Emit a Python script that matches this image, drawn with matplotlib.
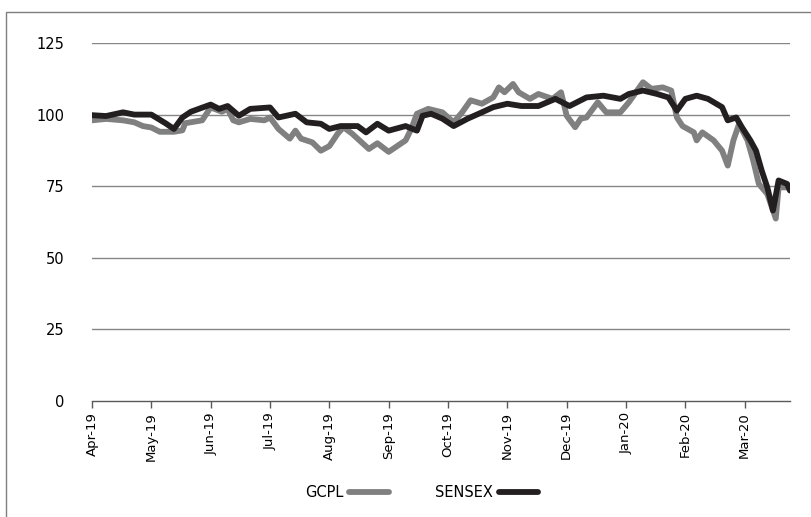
import matplotlib
matplotlib.use("Agg")
import matplotlib.pyplot as plt
from matplotlib.patches import Rectangle

# trading-day index (0 = 1 Apr 2019) and rebased value (1 Apr 2019 = 100)
gcpl_day = [0, 5, 11, 15, 18, 21, 24, 27, 29, 32, 33, 39, 42, 46, 48, 50, 52, 56,
            61, 63, 66, 70, 72, 74, 78, 81, 84, 87, 89, 92, 96, 98, 101, 105, 108,
            111, 113, 115, 119, 124, 128, 131, 134, 138, 142, 144, 146, 149, 151,
            155, 158, 163, 166, 168, 171, 173, 175, 179, 182, 187, 190, 195, 198,
            202, 205, 207, 209, 213, 214, 216, 220, 223, 225, 227, 229, 232, 234,
            236, 239, 242, 243, 247]
gcpl_val = [98, 98.5, 98, 97.3, 96, 95.5, 94, 94, 94, 94.5, 97, 98, 102.5, 101,
            102, 98, 97.3, 98.5, 98, 99, 95, 91.6, 94.4, 91.6, 90.3, 87.4, 89,
            93.4, 95.6, 93.4, 89.8, 88, 90, 87, 89, 91, 95, 100.3, 102, 100.8,
            97.3, 100.8, 105, 103.8, 106, 109.5, 107.8, 110.7, 107.8, 105.5, 107.2,
            105.5, 107.8, 99.6, 95.6, 98.6, 99, 104.3, 100.8, 100.8, 104.3, 111.3,
            109, 109.5, 108.4, 99, 96, 93.8, 91, 93.8, 91, 87.4, 82.2, 91, 96.7,
            91, 84, 75.8, 72.3, 63.7, 74.6, 74.6]

sensex_day = [0, 5, 11, 15, 21, 26, 29, 32, 35, 42, 45, 48, 52, 56, 63, 66, 72,
              76, 81, 84, 88, 94, 97, 101, 105, 111, 115, 117, 120, 124, 128, 133,
              138, 142, 147, 152, 158, 164, 169, 175, 181, 187, 190, 195, 200, 204,
              207, 210, 214, 218, 223, 225, 228, 230, 233, 235, 237, 239, 241, 243,
              246, 247]
sensex_val = [99.8, 99.5, 100.8, 100, 100, 97, 95, 99, 101, 103.5, 102, 103, 99.6,
              102, 102.5, 99, 100.3, 97.3, 96.8, 95, 96, 96, 93.8, 96.8, 94.4, 96,
              94.4, 99.6, 100.3, 98.6, 96, 98.6, 100.8, 102.6, 103.8, 103, 103,
              105.5, 103, 106, 106.6, 105.5, 107.2, 108.4, 107.2, 106, 101.4, 105.5,
              106.6, 105.5, 102.6, 98, 99, 95.6, 91, 87.4, 80.5, 74.6, 66.5, 77,
              75.8, 73.5]

tick_days = [0, 21, 42, 63, 84, 105, 126, 147, 168, 189, 210, 231]
tick_labels = ["Apr-19", "May-19", "Jun-19", "Jul-19", "Aug-19", "Sep-19",
               "Oct-19", "Nov-19", "Dec-19", "Jan-20", "Feb-20", "Mar-20"]
y_ticks = [0, 25, 50, 75, 100, 125]

fig = plt.figure(figsize=(8.11, 5.17), dpi=100)
ax = fig.add_axes([0.1134, 0.2244, 0.8606, 0.6924])

for y in y_ticks[1:]:
    ax.axhline(y, color="#868686", lw=1, zorder=1)

ax.plot(gcpl_day, gcpl_val, color="#808080", lw=4.2, label="GCPL",
        solid_joinstyle="round", solid_capstyle="round", zorder=2)
ax.plot(sensex_day, sensex_val, color="#231f20", lw=4.2, label="SENSEX",
        solid_joinstyle="round", solid_capstyle="round", zorder=3)

ax.set_xlim(0, 247)
ax.set_ylim(0, 125)
ax.set_yticks(y_ticks)
ax.set_xticks(tick_days)
ax.set_xticklabels(tick_labels, rotation=90, fontsize=9.5)
ax.tick_params(axis="y", length=0, pad=20, labelsize=10.5)
ax.tick_params(axis="x", length=5, width=1, color="#595959", pad=3)

for s in ["top", "right", "left"]:
    ax.spines[s].set_visible(False)
ax.spines["bottom"].set_color("#595959")
ax.spines["bottom"].set_linewidth(1)

fig.legend(loc="center", bbox_to_anchor=(0.52, 0.048), ncol=2, frameon=False,
           markerfirst=False, handlelength=2.7, columnspacing=3.2,
           handletextpad=0.4, fontsize=10.5)

# chart border
fig.patches.append(Rectangle((6 / 811, -0.05), 1.2, 1 - 12 / 517 + 0.05,
                             transform=fig.transFigure, fill=False,
                             edgecolor="#7f7f7f", lw=1))

fig.savefig("out.png", dpi=100)
